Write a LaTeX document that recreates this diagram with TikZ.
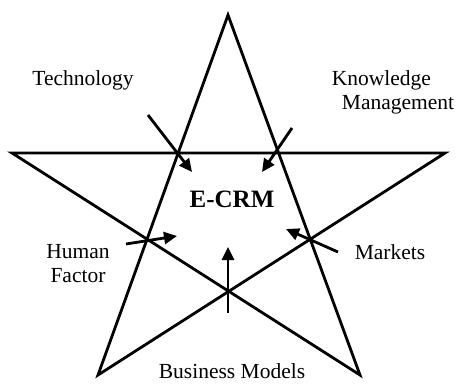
\documentclass[tikz,border=0pt]{standalone}
\usepackage{fontspec}
\setmainfont{Liberation Serif}
\usetikzlibrary{arrows.meta,positioning}
\tikzset{label/.style={font=\fontsize{21.5}{24}\selectfont, align=center, inner sep=0pt},
	title/.style={font=\fontsize{25}{28}\selectfont\bfseries, inner sep=0pt},
	edge/.style={draw,line width=2.8pt,line join=miter},
	arrow/.style={draw,line width=2.8pt,-{Triangle[length=13pt,width=12pt]}}}

\begin{document}
\begin{tikzpicture}[x=1pt,y=-1pt]
		\useasboundingbox (0,0) rectangle (457,383);
		% star corners
		\coordinate (top) at (228,15);
		\coordinate (left) at (12,153);
		\coordinate (right) at (445,153);
		\coordinate (botleft) at (98,375);
		\coordinate (botright) at (360,375);
		\draw [edge] (top)--(botleft)--(right)--(left)--(botright)--cycle;
		
		\node [title](ecrm) at (232,199){E-CRM};
		
		\node [label](tech) at (83,80){Technology};
		\node [label,align=left](know) at (393,92){Knowledge\\\hspace*{10pt}Management};
		\node [label](human) at (78,264){Human\\Factor};
		\node [label](markets) at (390,252){Markets};
		\node [label,anchor=base](business) at (232,378){Business Models};
		
		% arrow ends
		\coordinate (techA) at (148,115);
		\coordinate (techB) at (192,172);
		\coordinate (knowA) at (292,128);
		\coordinate (knowB) at (262,172);
		\coordinate (humanA) at (126,244);
		\coordinate (humanB) at (177,236);
		\coordinate (marketsA) at (338,252);
		\coordinate (marketsB) at (286,229);
		\coordinate (businessA) at (228,313);
		\coordinate (businessB) at (228,247);
		
		\draw [arrow] (techA)--(techB);
		\draw [arrow] (knowA)--(knowB);
		\draw [arrow] (humanA)--(humanB);
		\draw [arrow] (marketsA)--(marketsB);
		\draw [arrow] (businessA)--(businessB);
	\end{tikzpicture}
\end{document}
